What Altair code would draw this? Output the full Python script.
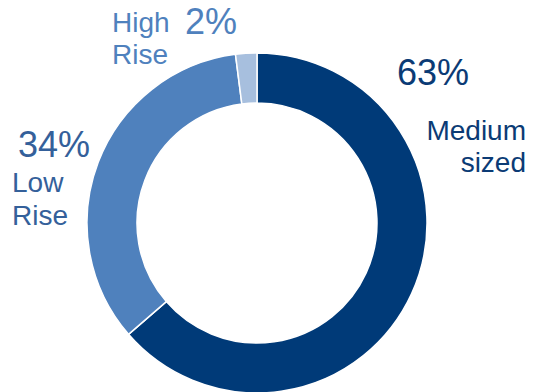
import altair as alt
import pandas as pd

categories = ["Medium sized", "Low Rise", "High Rise"]
shares = [63, 34, 2]
slice_order = [1, 2, 3]
slice_colors = ["#003A78", "#4F81BD", "#A7BFDE"]

df = pd.DataFrame({"category": categories, "share": shares, "ord": slice_order})

W, H = 518, 384
FONT = "Liberation Sans"

arc = alt.Chart(df).mark_arc(
    innerRadius=120, outerRadius=170, stroke="white", strokeWidth=1.5
).encode(
    theta=alt.Theta("share:Q", stack=True),
    order=alt.Order("ord:Q"),
    color=alt.Color("category:N", scale=alt.Scale(domain=categories, range=slice_colors), legend=None),
    x=alt.value(249),
    y=alt.value(215),
)


def label(text, x, y, size, color, align="left"):
    return alt.Chart(pd.DataFrame({"t": [text]})).mark_text(
        x=x, y=y, fontSize=size, color=color, align=align, baseline="alphabetic", font=FONT
    ).encode(text="t:N")


pct = [f"{s}%" for s in shares]
c_med, c_low, c_high = "#0B3B75", "#34609A", "#4F81BD"

layers = [
    arc,
    label(pct[0], 389, 77, 36, c_med),
    label("Medium", 518, 132, 28, c_med, "right"),
    label("sized", 518, 164, 28, c_med, "right"),
    label(pct[1], 10, 149, 36, c_low),
    label("Low", 4, 184, 28, c_low),
    label("Rise", 4, 217, 28, c_low),
    label("High", 104, 24, 28, c_high),
    label("Rise", 104, 56, 28, c_high),
    label(pct[2], 177, 26, 36, c_high),
]

chart = alt.layer(*layers).properties(
    width=W, height=H, autosize=alt.AutoSizeParams(type="none"), padding=0
).configure_view(stroke=None)

chart.save("out.html", embed_options={"renderer": "svg", "actions": False})
